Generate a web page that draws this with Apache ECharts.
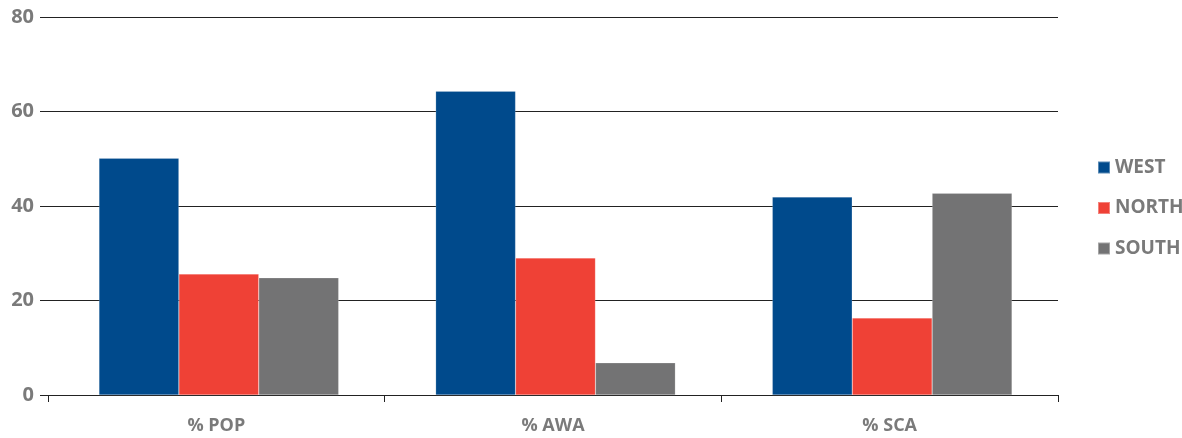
<!DOCTYPE html>
<html>
<head>
<meta charset="utf-8">
<script src="https://cdn.jsdelivr.net/npm/echarts@6/dist/echarts.min.js"></script>
<style>
  html, body { margin: 0; padding: 0; background: #fff; }
  #chart { width: 1182px; height: 438px; }
</style>
</head>
<body>
<div id="chart"></div>
<script>
// Share by region for each measure
const categories = ['% POP', '% AWA', '% SCA'];
const westValues = [50.1, 64.3, 41.9];
const northValues = [25.6, 29.0, 16.3];
const southValues = [24.8, 6.8, 42.7];
const yTicks = [0, 20, 40, 60, 80];

const labelColor = '#7a7a7a';
const fontFamily = '"Open Sans", "Noto Sans", sans-serif';
const yMin = yTicks[0];
const yMax = yTicks[yTicks.length - 1];

const chart = echarts.init(document.getElementById('chart'));

function barSeries(name, data, color) {
  return {
    name: name,
    type: 'bar',
    xAxisIndex: 1,
    yAxisIndex: 1,
    data: data,
    barGap: '0%',
    barCategoryGap: '28.8%',
    itemStyle: { color: color, borderColor: 'rgba(255,255,255,0.35)', borderWidth: 0.5 },
    emphasis: { disabled: true }
  };
}

chart.setOption({
  animation: false,
  // grid 0 carries the visible axes; grid 1 holds the bars, nudged slightly right
  grid: [
    { left: 48, right: 124, top: 17, bottom: 43 },
    { left: 50.5, right: 121.5, top: 17, bottom: 43 }
  ],
  legend: {
    orient: 'vertical',
    left: 1092,
    top: 153,
    itemWidth: 12,
    itemHeight: 12,
    itemGap: 21.5,
    icon: 'rect',
    textStyle: { color: labelColor, fontSize: 19, fontWeight: 'bold', fontFamily: fontFamily },
    data: ['WEST', 'NORTH', 'SOUTH']
  },
  xAxis: [
    {
      gridIndex: 0,
      type: 'category',
      data: categories,
      axisLine: { show: true, lineStyle: { color: '#222', width: 1 } },
      axisTick: { show: true, length: 7, lineStyle: { color: '#222' } },
      axisLabel: { color: labelColor, fontSize: 18, fontWeight: 'bold', fontFamily: fontFamily, margin: 22 }
    },
    {
      gridIndex: 1,
      type: 'category',
      data: categories,
      show: false
    }
  ],
  yAxis: [
    {
      gridIndex: 0,
      type: 'value',
      min: yMin,
      max: yMax,
      interval: 20,
      axisLine: { show: false },
      axisTick: { show: true, length: 8, lineStyle: { color: '#222' } },
      splitLine: { show: true, lineStyle: { color: '#222', width: 1 } },
      axisLabel: { color: labelColor, fontSize: 20, fontWeight: 'bold', fontFamily: fontFamily, margin: 14 }
    },
    {
      gridIndex: 1,
      type: 'value',
      min: yMin,
      max: yMax,
      interval: 20,
      show: false,
      splitLine: { show: false }
    }
  ],
  series: [
    barSeries('WEST', westValues, '#004a8c'),
    barSeries('NORTH', northValues, '#ef4136'),
    barSeries('SOUTH', southValues, '#737374')
  ]
});
</script>
</body>
</html>
